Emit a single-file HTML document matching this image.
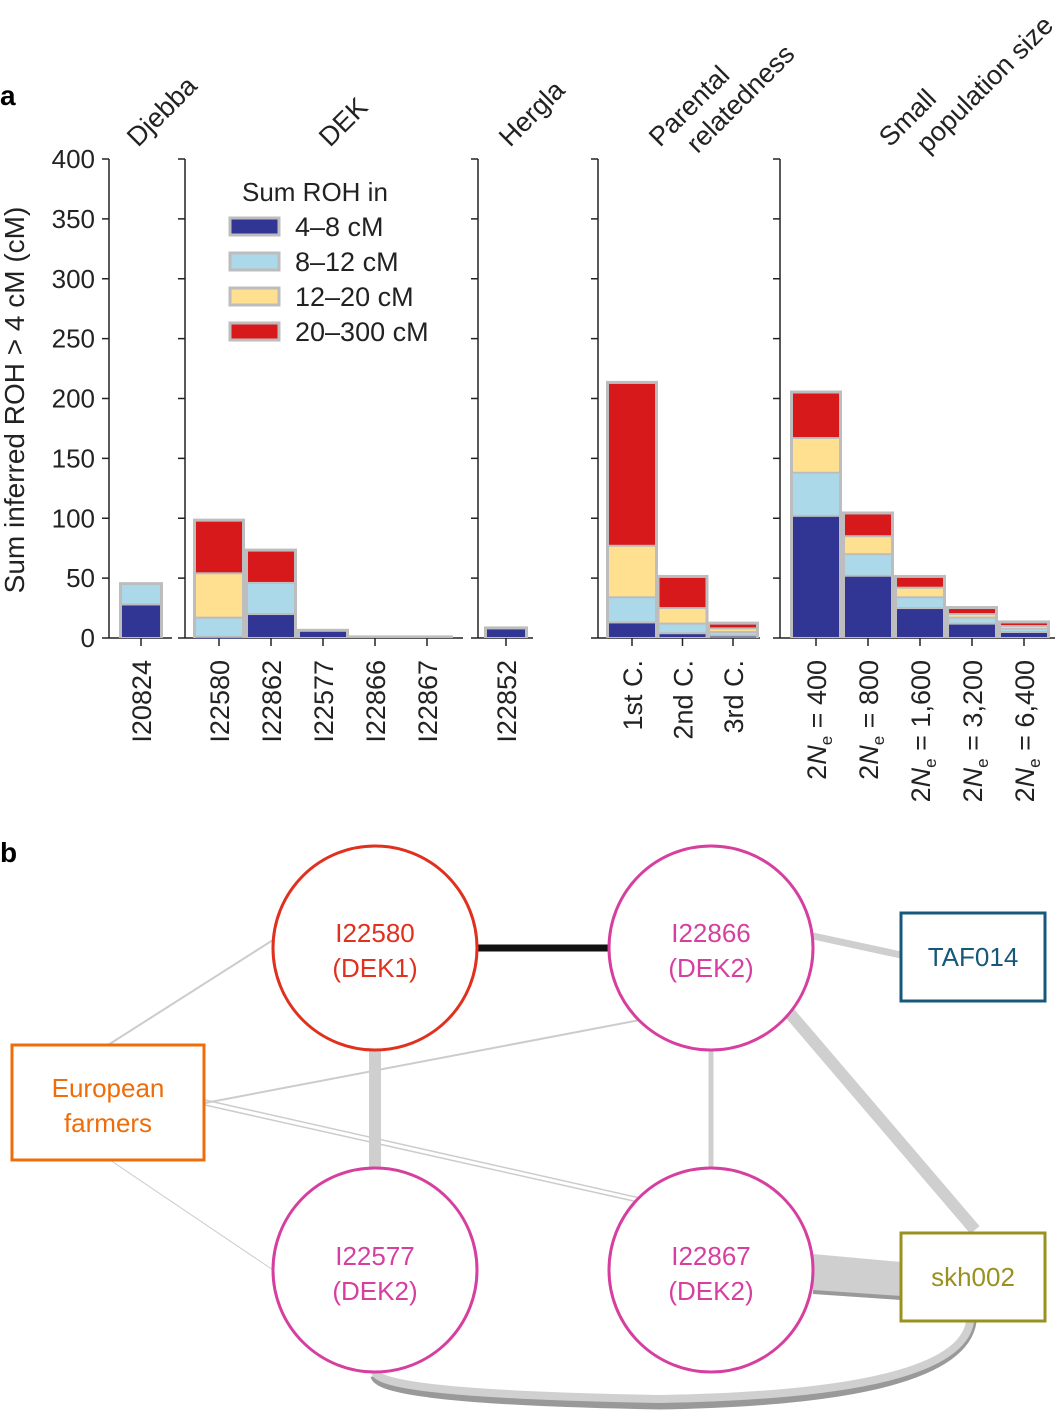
<!DOCTYPE html>
<html><head><meta charset="utf-8"><style>
body{margin:0;background:#fff}
svg text{font-family:"Liberation Sans",Arial,sans-serif}
</style></head><body>
<svg id="chart" width="1060" height="1416" viewBox="0 0 1060 1416" xmlns="http://www.w3.org/2000/svg">
<text x="0" y="105" font-size="28" font-weight="bold">a</text>
<text x="0" y="862" font-size="28" font-weight="bold">b</text>
<g id="plot"></g>
<g id="legend">
<text x="242" y="201" font-size="26" fill="#222">Sum ROH in</text>
</g>
<text transform="translate(24,400) rotate(-90)" text-anchor="middle" font-size="28" fill="#222">Sum inferred ROH &gt; 4 cM (cM)</text>

<g id="network">
<line x1="108" y1="1045" x2="273" y2="940" stroke="#ccc" stroke-width="2"/>
<line x1="205" y1="1103" x2="640" y2="1020" stroke="#ccc" stroke-width="2"/>
<line x1="205" y1="1100" x2="640" y2="1198" stroke="#ccc" stroke-width="1.5"/>
<line x1="205" y1="1105" x2="638" y2="1202" stroke="#ccc" stroke-width="1.5"/>
<line x1="110" y1="1160" x2="273" y2="1270" stroke="#ccc" stroke-width="1"/>
<line x1="375" y1="1050" x2="375" y2="1168" stroke="#cfcfcf" stroke-width="12"/>
<line x1="711" y1="1050" x2="711" y2="1168" stroke="#cfcfcf" stroke-width="5"/>
<line x1="813" y1="936" x2="901" y2="955" stroke="#cfcfcf" stroke-width="7"/>
<line x1="787" y1="1010" x2="975" y2="1230" stroke="#cfcfcf" stroke-width="12"/>
<polygon points="813,1254 901,1262 901,1300 813,1292" fill="#cfcfcf"/>
<line x1="813" y1="1292" x2="901" y2="1298" stroke="#999" stroke-width="4"/>
<path d="M375,1376 Q380,1400 660,1405 Q960,1400 972,1322" fill="none" stroke="#999" stroke-width="9"/>
<path d="M375,1372 Q380,1394 660,1399 Q958,1394 970,1322" fill="none" stroke="#d0d0d0" stroke-width="8"/>
<line x1="477" y1="948" x2="609" y2="948" stroke="#111" stroke-width="7"/>
<g><circle cx="375" cy="948" r="102" fill="#fff" stroke="#e0301e" stroke-width="3"/><text x="375" y="942" text-anchor="middle" font-size="26" fill="#e0301e">I22580</text><text x="375" y="977" text-anchor="middle" font-size="26" fill="#e0301e">(DEK1)</text></g>
<g><circle cx="711" cy="948" r="102" fill="#fff" stroke="#d63fa0" stroke-width="3"/><text x="711" y="942" text-anchor="middle" font-size="26" fill="#d63fa0">I22866</text><text x="711" y="977" text-anchor="middle" font-size="26" fill="#d63fa0">(DEK2)</text></g>
<g><circle cx="375" cy="1270" r="102" fill="#fff" stroke="#d63fa0" stroke-width="3"/><text x="375" y="1265" text-anchor="middle" font-size="26" fill="#d63fa0">I22577</text><text x="375" y="1300" text-anchor="middle" font-size="26" fill="#d63fa0">(DEK2)</text></g>
<g><circle cx="711" cy="1270" r="102" fill="#fff" stroke="#d63fa0" stroke-width="3"/><text x="711" y="1265" text-anchor="middle" font-size="26" fill="#d63fa0">I22867</text><text x="711" y="1300" text-anchor="middle" font-size="26" fill="#d63fa0">(DEK2)</text></g>
<g><rect x="12" y="1045" width="192" height="115" fill="#fff" stroke="#ef6c0a" stroke-width="3"/><text x="108" y="1097" text-anchor="middle" font-size="26" fill="#ef6c0a">European</text><text x="108" y="1132" text-anchor="middle" font-size="26" fill="#ef6c0a">farmers</text></g>
<g><rect x="901" y="913" width="144" height="88" fill="#fff" stroke="#16587a" stroke-width="3"/><text x="973" y="966" text-anchor="middle" font-size="26" fill="#16587a">TAF014</text></g>
<g><rect x="901" y="1233" width="144" height="88" fill="#fff" stroke="#9a9020" stroke-width="3"/><text x="973" y="1286" text-anchor="middle" font-size="26" fill="#9a9020">skh002</text></g>
</g>
</svg>
<script>
const categories=["I20824","I22580","I22862","I22577","I22866","I22867","I22852","1st C.","2nd C.","3rd C.","400","800","1,600","3,200","6,400"];
const seg4to8=[28,1,20,6,0.5,0.5,8,13,4,2,102,52,25,12,5];
const seg8to12=[17,16,26,0,0,0,0,21,8,3,36,18,9,5,3];
const seg12to20=[0,37,0,0,0,0,0,43,13,3,29,15,8,3,2];
const seg20to300=[0,44,27,0,0,0,0,136,26,4,38,19,9,5,3];
const yTicks=[0,50,100,150,200,250,300,350,400];
const colors=["#313695","#abd9e9","#fee090","#d7191c"];
const legendLabels=["4–8 cM","8–12 cM","12–20 cM","20–300 cM"];
const groupNames=["Djebba","DEK","Hergla","Parental|relatedness","Small|population size"];

const NS="http://www.w3.org/2000/svg";
const g=document.getElementById('plot');
const Y0=638,K=479/400;
const y=v=>Y0-v*K;
const panels=[{ax:109,x0:109,x1:172,start:0,n:1},{ax:185,x0:185,x1:463,start:1,n:5},{ax:478,x0:478,x1:533,start:6,n:1},{ax:598,x0:598,x1:760,start:7,n:3},{ax:780,x0:780,x1:1055,start:10,n:5}];
const firstCx=[141,219,506,632,816];
const step=[0,52,0,50.5,52];
const groupPos=[[138,148],[330,148],[510,148],[660,148],[890,148]];
function el(t,a,p){const e=document.createElementNS(NS,t);for(const k in a)e.setAttribute(k,a[k]);(p||g).appendChild(e);return e;}
panels.forEach((p,pi)=>{
  const ax=el('line',{x1:p.ax,y1:159,x2:p.ax,y2:Y0,stroke:'#222','stroke-width':1.5});
  
  
  const bl=el('line',{x1:p.x0,y1:Y0,x2:p.x1,y2:Y0,stroke:'#222','stroke-width':1.5});
  
  
  yTicks.forEach(t=>{
    const tk=el('line',{x1:p.ax-7,y1:y(t),x2:p.ax,y2:y(t),stroke:'#222','stroke-width':1.5});
    
    
    if(pi===0){const tl=el('text',{x:95,y:y(t)+9,'text-anchor':'end','font-size':26,fill:'#222'});tl.textContent=t;
      
      }
  });
  const gp=groupNames[pi].split('|');
  const gt=el('text',{transform:`translate(${groupPos[pi][0]},${groupPos[pi][1]}) rotate(-45)`,'font-size':27,fill:'#222'});
  
  
  gp.forEach((s,i)=>{const ts=el('tspan',{x:i*22,dy:i?31:0},gt);ts.textContent=s;});
  for(let j=0;j<p.n;j++){
    const i=p.start+j,cx=firstCx[pi]+j*step[pi],w=(pi===0?40:(pi===2?40:48));
    const tk=el('line',{x1:cx,y1:Y0,x2:cx,y2:Y0+8,stroke:'#222','stroke-width':1.5});
    
    
    const vals=[seg4to8[i],seg8to12[i],seg12to20[i],seg20to300[i]];
    let acc=0;
    const tot=vals.reduce((a,b)=>a+b,0);
    const bg=el('rect',{x:cx-w/2-2,y:y(tot)-2,width:w+4,height:tot*K+2,fill:'#bdbdbd'});
    
    
    vals.forEach((v,s)=>{
      if(v<=0.6){acc+=v;return;}
      const r=el('rect',{x:cx-w/2+1,y:y(acc+v)+1,width:w-2,height:Math.max(v*K-2,0.8),fill:colors[s]});
      
      
      acc+=v;
    });
    const lab=el('text',{transform:`translate(${cx+10},${Y0+22}) rotate(-90)`,'text-anchor':'end','font-size':27,fill:'#222'});
    
    
    if(pi===4){
      lab.innerHTML='2<tspan font-style="italic">N</tspan><tspan font-size="17" dy="6">e</tspan><tspan dy="-6"> = '+categories[i]+'</tspan>';
    } else lab.textContent=categories[i];
  }
});
const lg=document.getElementById('legend');
legendLabels.forEach((l,i)=>{
  const r=el('rect',{x:230,y:218+i*35,width:49,height:17,fill:colors[i],stroke:'#bdbdbd','stroke-width':3},lg);
  
  
  const t=el('text',{x:295,y:236+i*35,'font-size':27,fill:'#222'},lg);t.textContent=l;
  
  
});
</script>
</body></html>
